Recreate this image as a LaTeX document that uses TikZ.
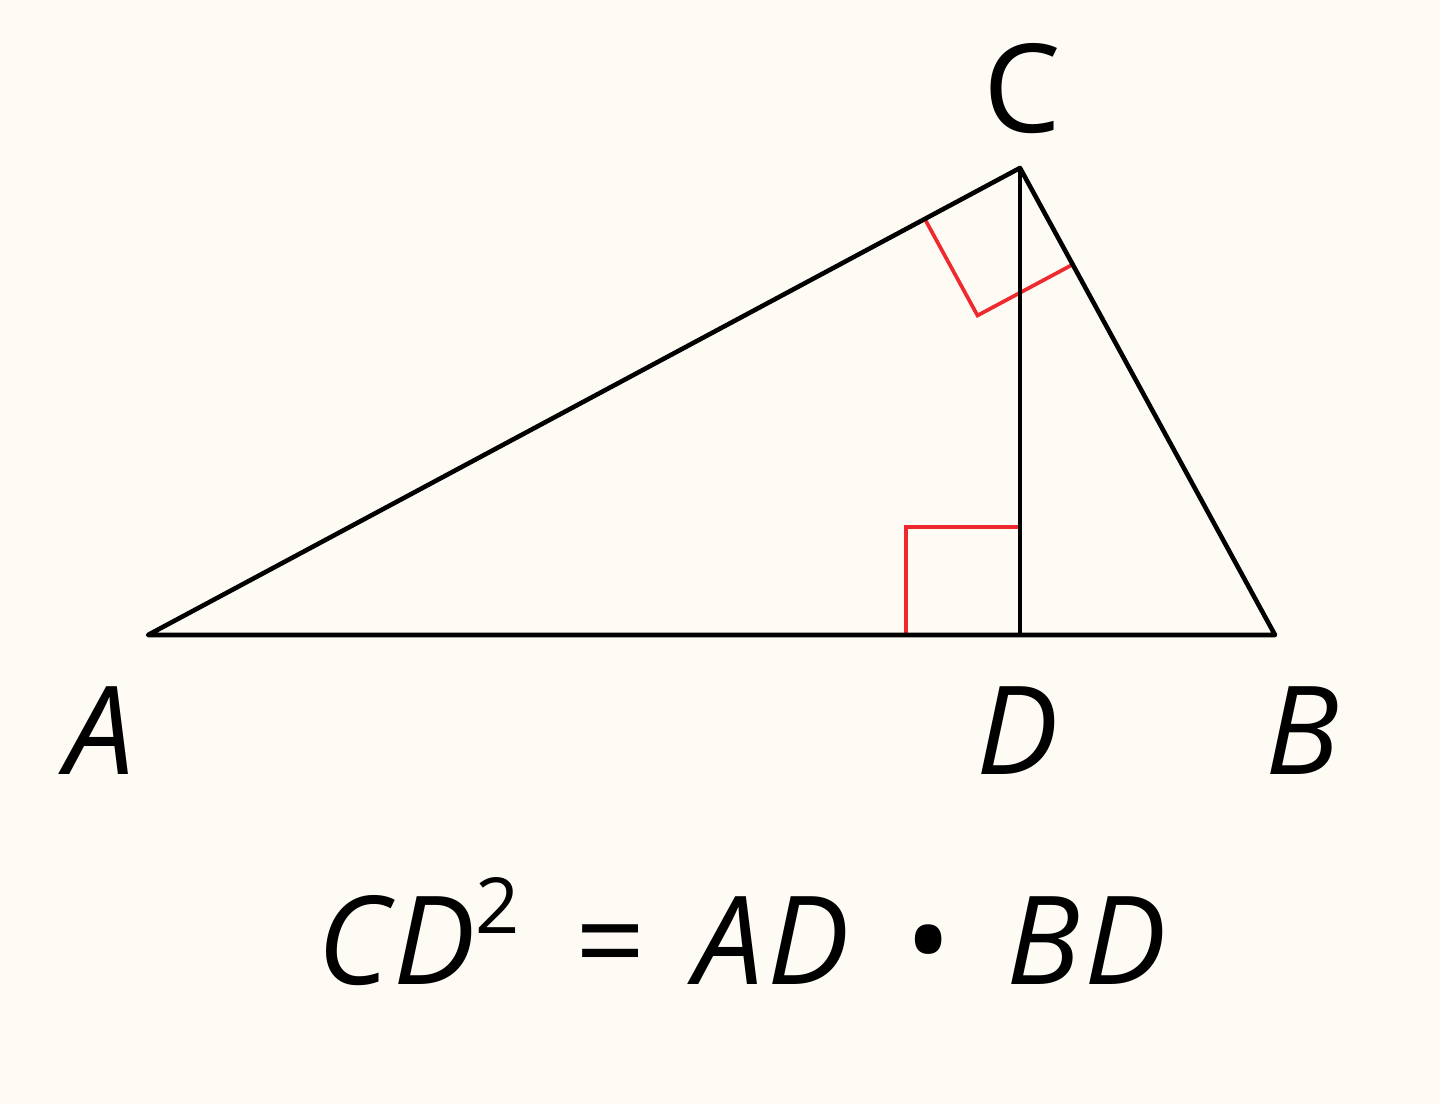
\documentclass[tikz,border=0pt]{standalone}
\usepackage{fontspec}
\setmainfont{Open Sans}
\usetikzlibrary{calc}
\definecolor{paper}{HTML}{FDFBF4}
\definecolor{markred}{HTML}{EE2A2E}
\tikzset{
	side/.style = {line width = 1.3pt, black, line join = round},
	rightmark/.style = {line width = 1.05pt, markred},
	vlabel/.style = {anchor = base, inner sep = 0pt, font = \fontsize{35}{40}\selectfont\itshape}
}
\newcommand{\sqsup}{\raisebox{0.42em}{\upshape\fontsize{22}{22}\selectfont 2}}
\begin{document}
\begin{tikzpicture}[x = 1cm, y = 1cm]
				\fill[paper] (0, 0) rectangle (14.4, 11.04);
				\useasboundingbox (0, 0) rectangle (14.4, 11.04);
				
				\coordinate (A) at (1.48, 4.69);
				\coordinate (B) at (12.75, 4.69);
				\coordinate (C) at (10.20, 9.36);
				\coordinate (D) at (10.20, 4.69);
				
				% right angle marks
				\draw[rightmark] ($(D) + (-1.14, 0)$) -- ($(D) + (-1.14, 1.08)$) -- ($(D) + (0, 1.08)$);
				\coordinate (CA) at ($(C)!1.08cm!(A)$);
				\coordinate (CB) at ($(C)!1.10cm!(B)$);
				\draw[rightmark] (CA) -- ($(CA) + (CB) - (C)$) -- (CB);
				
				\draw[side] (A) -- (B) -- (C) -- cycle;
				\draw[side] (C) -- (D);
				
				\node[vlabel, font = \fontsize{35}{40}\selectfont\upshape] (labC) at (10.22, 9.71) {C};
				\node[vlabel] (labA) at (1.00, 3.29) {A};
				\node[vlabel] (labD) at (10.18, 3.29) {D};
				\node[vlabel] (labB) at (13.02, 3.29) {B};
				
				% relation under the triangle
				\node[vlabel, font = \fontsize{35}{40}\selectfont\itshape\addfontfeature{LetterSpace=3}] (rel) at (7.42, 1.19)
					{CD\sqsup\hspace{0.45em}{\upshape =}\hspace{0.4em}AD\hspace{0.45em}{\upshape •}\hspace{0.45em}BD};
			\end{tikzpicture}
\end{document}
